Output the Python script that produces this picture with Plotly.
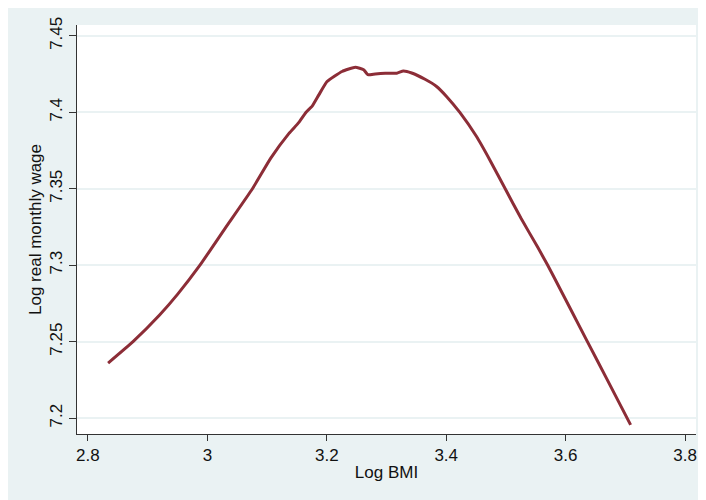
import plotly.graph_objects as go

log_bmi = [2.8338, 2.8755, 2.9200, 2.9500, 2.9867, 3.0300, 3.0755, 3.1062,
           3.1367, 3.1533, 3.1650, 3.1755, 3.1867, 3.2005, 3.2255, 3.2478, 3.2617,
           3.2688, 3.2812, 3.2978, 3.3172, 3.3283, 3.3422, 3.3645, 3.3838, 3.4005,
           3.4228, 3.4505, 3.4728, 3.4988, 3.5255, 3.5533, 3.5700, 3.5812, 3.6338,
           3.6700, 3.7088]
log_wage = [7.2360, 7.2500, 7.2674, 7.2809, 7.2995, 7.3243, 7.3500, 7.3700,
            7.3862, 7.3934, 7.3999, 7.4040, 7.4114, 7.4201, 7.4267, 7.4295, 7.4279,
            7.4246, 7.4251, 7.4255, 7.4256, 7.4270, 7.4257, 7.4216, 7.4169, 7.4104,
            7.3999, 7.3843, 7.3690, 7.3500, 7.3305, 7.3117, 7.3000, 7.2916, 7.2520,
            7.2248, 7.1956]

x_ticks = [2.8, 3.0, 3.2, 3.4, 3.6, 3.8]
x_labels = ["2.8", "3", "3.2", "3.4", "3.6", "3.8"]
y_ticks = [7.2, 7.25, 7.3, 7.35, 7.4, 7.45]
y_labels = ["7.2", "7.25", "7.3", "7.35", "7.4", "7.45"]

BG = "#eaf2f3"
fig = go.Figure()
fig.add_trace(go.Scatter(x=log_bmi, y=log_wage, mode="lines",
                         line=dict(color="#8c2d37", width=3, shape="spline", smoothing=0.4),
                         showlegend=False, hoverinfo="skip"))

font = dict(family="Liberation Sans, Arial, sans-serif", size=17, color="#111")
fig.update_layout(
    width=698, height=492,
    margin=dict(l=69, r=9, t=13, b=66, pad=0),
    paper_bgcolor=BG, plot_bgcolor="white",
    font=font,
    xaxis=dict(range=[2.7817, 3.8183], tickvals=x_ticks, ticktext=x_labels,
               showgrid=False, zeroline=False, showline=True, linecolor="#333",
               linewidth=1, ticks="outside", ticklen=6, tickcolor="#333",
               title=dict(text="Log BMI", standoff=1, font=font), tickfont=font),
    yaxis=dict(range=[7.1896, 7.4571], tickvals=y_ticks, ticktext=y_labels,
               showgrid=True, gridcolor=BG, gridwidth=1.5, zeroline=False,
               showline=True, linecolor="#333", linewidth=1, ticks="outside",
               ticklen=7, tickcolor="#333", tickangle=-90,
               title=dict(text="Log real monthly wage", standoff=1, font=font),
               tickfont=font),
)
fig.write_html("out.html")
